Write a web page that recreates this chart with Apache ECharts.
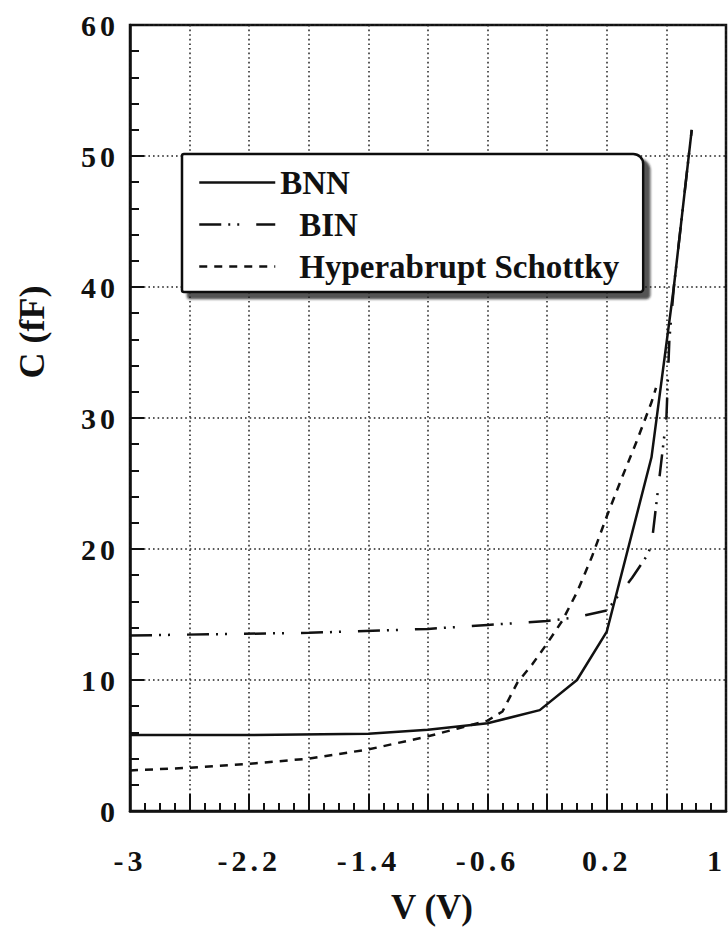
<!DOCTYPE html>
<html>
<head>
<meta charset="utf-8">
<script src="https://cdn.jsdelivr.net/npm/echarts@6/dist/echarts.min.js"></script>
<style>
  html, body { margin: 0; padding: 0; background: #fff; }
  #chart { width: 728px; height: 930px; }
  /* the tick labels of the scan are spaced out */
  #chart text[style*="30px"] { letter-spacing: 4px; }
</style>
</head>
<body>
<div id="chart"></div>
<script>
const seriesNames = ['BNN', 'BIN', 'Hyperabrupt Schottky'];

const bnnV = [-3, -2.2, -1.4, -1.0, -0.6, -0.25, 0.0, 0.2, 0.5, 0.65, 0.77];
const bnnC = [5.8, 5.8, 5.9, 6.2, 6.7, 7.7, 10.0, 13.7, 27.0, 40.0, 52.0];

const binV = [-3, -1.8, -1.0, -0.6, -0.2, 0.0, 0.2, 0.37, 0.47, 0.5, 0.6, 0.62, 0.65, 0.77];
const binC = [13.4, 13.6, 13.9, 14.2, 14.5, 14.8, 15.3, 17.8, 19.5, 20.3, 30.0, 36.0, 40.0, 52.0];

const hypV = [-3, -2.6, -2.2, -1.8, -1.4, -1.2, -1.0, -0.8, -0.6, -0.5, -0.4, -0.3, -0.2, -0.1, 0.0, 0.1, 0.2, 0.3, 0.4, 0.5, 0.53];
const hypC = [3.1, 3.3, 3.6, 4.0, 4.7, 5.2, 5.7, 6.3, 6.9, 7.6, 9.8, 11.2, 12.8, 14.5, 16.7, 19.4, 22.5, 25.4, 28.2, 31.2, 32.3];

const FONT = '"Liberation Serif", "DejaVu Serif", serif';
const INK = '#111';

const chart = echarts.init(document.getElementById('chart'), null, { renderer: 'svg' });

const zip = (xs, ys) => xs.map((x, i) => [x, ys[i]]);

chart.setOption({
  animation: false,
  backgroundColor: '#fff',
  grid: {
    left: 130, right: 2, top: 25, bottom: 119,
    outerBoundsMode: 'none',
    show: true, borderColor: INK, borderWidth: 2.5, backgroundColor: 'transparent'
  },
  legend: {
    orient: 'vertical',
    left: 182,
    top: 154,
    padding: [12, 24, 9, 16],
    itemGap: 9,
    itemWidth: 76,
    itemHeight: 14,
    selectedMode: false,
    backgroundColor: '#fff',
    borderColor: INK,
    borderWidth: 2.5,
    borderRadius: [2, 10, 3, 2],
    shadowColor: 'rgba(30,30,30,0.75)',
    shadowBlur: 2,
    shadowOffsetX: 6,
    shadowOffsetY: 6,
    data: seriesNames,
    itemStyle: { opacity: 0, borderWidth: 0 },
    lineStyle: { width: 2.5 },
    formatter: (name) => (name === 'BNN' ? '{a|' + name + '}' : '{b|' + name + '}'),
    textStyle: {
      fontFamily: FONT, fontWeight: 'bold', fontSize: 33, color: INK,
      rich: {
        a: { fontFamily: FONT, fontWeight: 'bold', fontSize: 33, color: INK, lineHeight: 30 },
        b: { fontFamily: FONT, fontWeight: 'bold', fontSize: 33, color: INK, lineHeight: 30, padding: [0, 0, 0, 19] }
      }
    }
  },
  xAxis: {
    type: 'value',
    min: -3,
    max: 1,
    interval: 0.4,
    name: 'V (V)',
    nameLocation: 'middle',
    nameGap: 79,
    nameTextStyle: { fontFamily: FONT, fontWeight: 'bold', fontSize: 35, color: INK, padding: [0, 0, 0, 8] },
    axisLine: { show: true, onZero: false, lineStyle: { color: INK, width: 2.5 } },
    axisTick: { show: true, inside: true, length: 17, lineStyle: { color: INK, width: 2 } },
    minorTick: { show: true, splitNumber: 4, length: 8, lineStyle: { color: INK, width: 2 } },
    splitLine: { show: true, lineStyle: { color: '#222', width: 1.5, type: [1.6, 3] } },
    axisLabel: {
      margin: 34,
      alignMaxLabel: 'right',
      fontFamily: FONT, fontWeight: 'bold', fontSize: 30, color: INK,
      formatter: (v) => {
        const k = Math.round((v + 3) / 0.4);
        return k % 2 === 0 ? String(+v.toFixed(1)) : '';
      }
    }
  },
  yAxis: {
    type: 'value',
    min: 0,
    max: 60,
    interval: 10,
    axisLine: { show: true, onZero: false, lineStyle: { color: INK, width: 2.5 } },
    axisTick: { show: true, inside: true, length: 14, lineStyle: { color: INK, width: 2 } },
    minorTick: { show: true, splitNumber: 5, length: 9, lineStyle: { color: INK, width: 2 } },
    splitLine: { show: true, lineStyle: { color: '#222', width: 1.5, type: [1.6, 3] } },
    axisLabel: { margin: 11, fontFamily: FONT, fontWeight: 'bold', fontSize: 30, color: INK }
  },
  graphic: [{
    type: 'text',
    x: 32,
    y: 332,
    rotation: Math.PI / 2,
    style: {
      text: 'C (fF)',
      fontFamily: FONT, fontWeight: 'bold', fontSize: 36, fill: INK,
      align: 'center', verticalAlign: 'middle'
    }
  }],
  series: [
    {
      name: 'BNN', type: 'line', data: zip(bnnV, bnnC), symbol: 'none',
      lineStyle: { color: INK, width: 2.5, type: 'solid' }, itemStyle: { color: INK }, z: 4
    },
    {
      name: 'BIN', type: 'line', data: zip(binV, binC), symbol: 'none',
      lineStyle: { color: INK, width: 2.5, type: [22, 7, 2, 7, 2, 17] }, itemStyle: { color: INK }, z: 3
    },
    {
      name: 'Hyperabrupt Schottky', type: 'line', data: zip(hypV, hypC), symbol: 'none',
      lineStyle: { color: INK, width: 2.5, type: [8, 7] }, itemStyle: { color: INK }, z: 3
    }
  ]
});
</script>
</body>
</html>
